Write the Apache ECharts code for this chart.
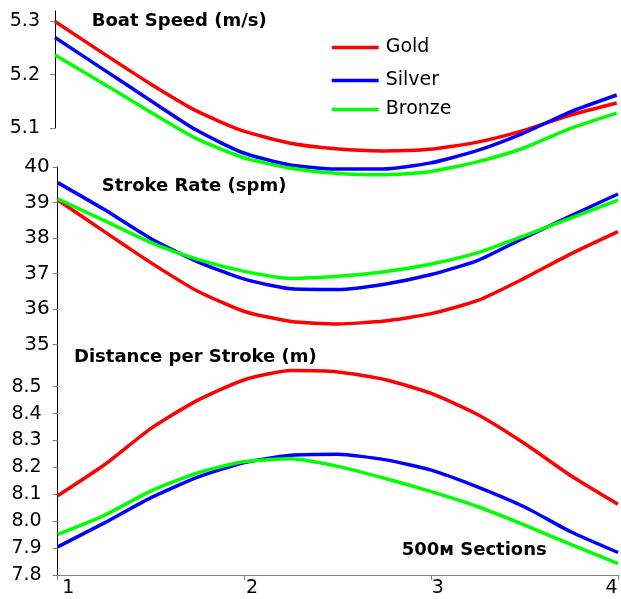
<!DOCTYPE html>
<html>
<head>
<meta charset="utf-8">
<script src="https://cdn.jsdelivr.net/npm/echarts@6/dist/echarts.min.js"></script>
<style>html,body{margin:0;padding:0;background:#fff}#c{width:621px;height:599px}</style>
</head>
<body>
<div id="c"></div>
<script>
// Section positions (500m sections axis)
const xs = [1, 1.25, 1.5, 1.75, 2, 2.25, 2.5, 2.75, 3, 3.25, 3.5, 3.75, 4];
const xTicks = [1, 2, 3, 4];

// Boat speed (m/s)
const speedGold   = [5.300, 5.242, 5.185, 5.133, 5.095, 5.072, 5.061, 5.057, 5.060, 5.073, 5.095, 5.124, 5.147];
const speedSilver = [5.270, 5.212, 5.154, 5.097, 5.054, 5.031, 5.023, 5.023, 5.034, 5.057, 5.090, 5.130, 5.162];
const speedBronze = [5.237, 5.185, 5.132, 5.081, 5.045, 5.025, 5.015, 5.012, 5.018, 5.036, 5.062, 5.099, 5.128];
const speedTicks  = [5.1, 5.2, 5.3];

// Stroke rate (spm)
const rateGold   = [39.07, 38.18, 37.30, 36.50, 35.93, 35.65, 35.58, 35.66, 35.87, 36.24, 36.87, 37.56, 38.18];
const rateSilver = [39.56, 38.80, 37.98, 37.33, 36.84, 36.57, 36.55, 36.70, 36.97, 37.37, 38.01, 38.63, 39.24];
const rateBronze = [39.10, 38.49, 37.87, 37.40, 37.06, 36.86, 36.92, 37.05, 37.27, 37.59, 38.07, 38.57, 39.07];
const rateTicks  = [35, 36, 37, 38, 39, 40];

// Distance per stroke (m)
const dpsGold   = [8.095, 8.210, 8.345, 8.450, 8.526, 8.560, 8.555, 8.527, 8.475, 8.396, 8.289, 8.168, 8.063];
const dpsSilver = [7.905, 7.994, 8.088, 8.164, 8.218, 8.245, 8.249, 8.229, 8.190, 8.127, 8.053, 7.960, 7.884];
const dpsBronze = [7.951, 8.022, 8.113, 8.180, 8.222, 8.232, 8.204, 8.160, 8.110, 8.054, 7.986, 7.913, 7.843];
const dpsTicks  = [7.8, 7.9, 8.0, 8.1, 8.2, 8.3, 8.4, 8.5];

const names = ['Gold', 'Silver', 'Bronze'];
const colors = ['#ff0000', '#0000ff', '#00ff00'];
const titles = ['Boat Speed (m/s)', 'Stroke Rate (spm)', 'Distance per Stroke (m)', '500м Sections'];

const FONT = '"DejaVu Sans", "Liberation Sans", sans-serif';
const pair = arr => arr.map((v, i) => [xs[i], v]);

const chart = echarts.init(document.getElementById('c'));

function yAx(gi, min, max, ticks, margin, size, fmt) {
  return {
    type: 'value', gridIndex: gi, min: min, max: max,
    axisLine: { show: true, lineStyle: { color: '#000', width: 1 } },
    axisTick: { show: true, length: 5, lineStyle: { color: '#808080' }, customValues: ticks },
    axisLabel: { customValues: ticks, margin: margin, color: '#000', fontFamily: FONT, fontSize: size, formatter: fmt },
    splitLine: { show: false }
  };
}
function xAx(gi, show) {
  return {
    type: 'value', gridIndex: gi, min: 1, max: 4, interval: 1, show: show,
    axisLine: { show: true, lineStyle: { color: '#808080', width: 1 } },
    axisTick: { show: true, length: 5, lineStyle: { color: '#808080' }, customValues: xTicks },
    axisLabel: {
      customValues: xTicks,
      color: '#000', fontFamily: FONT, fontSize: 19, margin: 3,
      formatter: v => '{t' + v + '|' + v + '}',
      rich: {
        t1: { fontFamily: FONT, fontSize: 19, padding: [0, 0, 0, 21] },
        t2: { fontFamily: FONT, fontSize: 19, padding: [0, 0, 0, 15] },
        t3: { fontFamily: FONT, fontSize: 19, padding: [0, 0, 0, 13] },
        t4: { fontFamily: FONT, fontSize: 19, padding: [0, 13, 0, 0] }
      }
    },
    splitLine: { show: false }
  };
}

const panels = [[speedGold, speedSilver, speedBronze], [rateGold, rateSilver, rateBronze], [dpsGold, dpsSilver, dpsBronze]];
const series = [];
panels.forEach((p, gi) => {
  p.forEach((d, k) => {
    series.push({
      name: names[k], type: 'line', xAxisIndex: gi, yAxisIndex: gi,
      data: pair(d), showSymbol: false, symbol: 'none', smooth: 0.2, clip: false,
      lineStyle: { color: colors[k], width: 3.5 }, itemStyle: { color: colors[k] }
    });
  });
});

const legendTops = [38, 71, 100];
const option = {
  animation: false,
  backgroundColor: '#fff',
  grid: [
    { left: 55, right: 4.3, top: 10.85, height: 117.15, containLabel: false, outerBoundsMode: 'none' },
    { left: 57.7, right: 3, top: 167, height: 195.25, containLabel: false, outerBoundsMode: 'none' },
    { left: 57.7, right: 3, top: 359.8, height: 215.3, containLabel: false, outerBoundsMode: 'none' }
  ],
  xAxis: [xAx(0, false), xAx(1, false), xAx(2, true)],
  yAxis: [
    yAx(0, 5.1, 5.32, speedTicks, 15, 19, v => v.toFixed(1)),
    yAx(1, 34.5, 40, rateTicks, 8, 20, v => String(Math.round(v))),
    yAx(2, 7.8, 8.6, dpsTicks, 16, 19, v => v.toFixed(1))
  ],
  legend: names.map((n, k) => ({
    data: [n], left: 331.7, top: legendTops[k], orient: 'vertical',
    icon: 'rect', itemWidth: 47, itemHeight: 3.5, itemGap: 0, padding: 0,
    textStyle: { color: '#000', fontFamily: FONT, fontSize: 19, padding: [0, 0, 0, 2] },
    selectedMode: false
  })),
  graphic: [
    { type: 'text', x: 91.7, y: 21.7, style: { text: titles[0], font: 'bold 18px ' + FONT, fill: '#000', verticalAlign: 'middle' } },
    { type: 'text', x: 101.7, y: 186.3, style: { text: titles[1], font: 'bold 18px ' + FONT, fill: '#000', verticalAlign: 'middle' } },
    { type: 'text', x: 74, y: 357, style: { text: titles[2], font: 'bold 18px ' + FONT, fill: '#000', verticalAlign: 'middle' } },
    { type: 'text', x: 401.7, y: 550.3, style: { text: titles[3], font: 'bold 18px ' + FONT, fill: '#000', verticalAlign: 'middle' } }
  ],
  series: series
};
chart.setOption(option);
</script>
</body>
</html>
